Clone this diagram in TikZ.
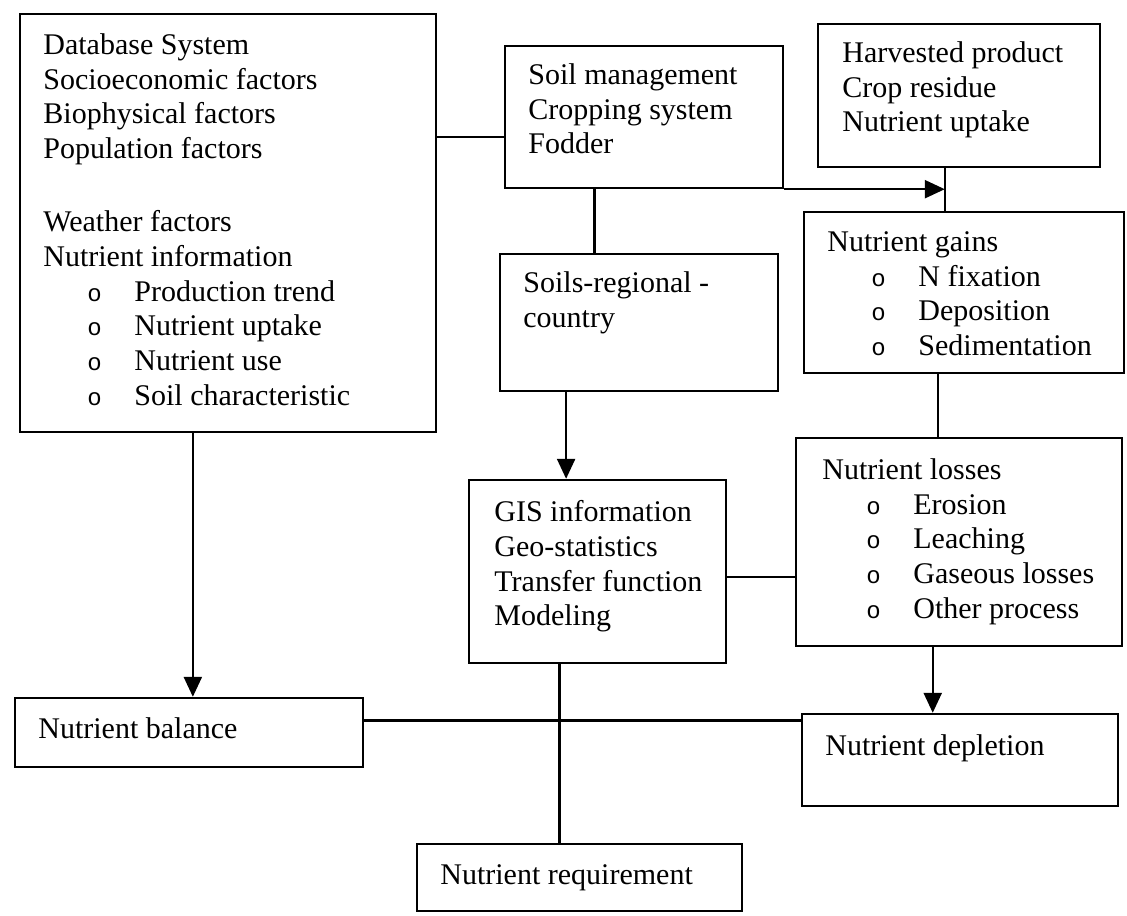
\documentclass[tikz,border=0pt]{standalone}
\usepackage{fontspec}
\setmainfont{Liberation Serif}
\newfontfamily\bulletfont{Liberation Mono}
\usetikzlibrary{arrows.meta,calc,fit}
\newcommand\bul[1]{\hspace*{22pt}\makebox[23.5pt][l]{\fontsize{12}{12}\bulletfont o}#1}
\tikzset{
  box/.style={draw, line width=1.2pt, inner sep=0pt},
  txt/.style={anchor=north west, inner sep=0pt, align=left, font=\fontsize{15}{17.4}\selectfont},
  conn/.style={line width=1.2pt},
  arr/.style={line width=1.2pt, -{Triangle[length=10pt,width=9pt]}}
}
\begin{document}
\begin{tikzpicture}[x=0.5pt,y=-0.5pt]
\useasboundingbox (0,0) rectangle (1127,915);
% boxes
\node[box, fit={(20,14) (436,432)}] (db) {};
\node[box, fit={(505,46) (783,188)}] (soil) {};
\node[box, fit={(818,24) (1100,167)}] (harv) {};
\node[box, fit={(804,212) (1124,373)}] (gains) {};
\node[box, fit={(500,254) (778,391)}] (soils) {};
\node[box, fit={(469,480) (726,663)}] (gis) {};
\node[box, fit={(796,438) (1122,646)}] (loss) {};
\node[box, fit={(15,698) (363,767)}] (bal) {};
\node[box, fit={(802,714) (1118,806)}] (depl) {};
\node[box, fit={(417,844) (742,911)}] (req) {};
% texts
\node[txt] (dbt) at (43,33) {Database System\\Socioeconomic factors\\Biophysical factors\\Population factors\\[19pt]Weather factors\\Nutrient information\\\bul{Production trend}\\\bul{Nutrient uptake}\\\bul{Nutrient use}\\\bul{Soil characteristic}};
\node[txt] (soilt) at (528,63) {Soil management\\Cropping system\\Fodder};
\node[txt] (harvt) at (842,41) {Harvested product\\Crop residue\\Nutrient uptake};
\node[txt] (gainst) at (827,231) {Nutrient gains\\\bul{N fixation}\\\bul{Deposition}\\\bul{Sedimentation}};
\node[txt] (soilst) at (523,271) {Soils-regional -\\country};
\node[txt] (gist) at (494,500) {GIS information\\Geo-statistics\\Transfer function\\Modeling};
\node[txt] (losst) at (822,458) {Nutrient losses\\\bul{Erosion}\\\bul{Leaching}\\\bul{Gaseous losses}\\\bul{Other process}};
\node[txt] (balt) at (38,717) {Nutrient balance};
\node[txt] (deplt) at (825,734) {Nutrient depletion};
\node[txt] (reqt) at (440,864) {Nutrient requirement};
% connectors
\coordinate (p1) at ($(soil.north west)!0.64!(soil.south west)$);
\draw[conn] (db.east |- p1) -- (p1);
\coordinate (p2) at ($(soil.south west)!0.324!(soil.south east)$);
\draw[conn] (p2) -- (soils.north -| p2);
\coordinate (j1) at ($(harv.south west)!0.45!(harv.south east)$);
\draw[conn] (j1) -- (gains.north -| j1);
\draw[arr] (soil.south east) -- (soil.south east -| j1);
\coordinate (p4) at ($(gains.south west)!0.42!(gains.south east)$);
\draw[conn] (p4) -- (loss.north -| p4);
\coordinate (p5) at ($(soils.south west)!0.24!(soils.south east)$);
\draw[arr] (p5) -- (gis.north -| p5);
\coordinate (p6) at ($(gis.north east)!0.53!(gis.south east)$);
\draw[conn] (p6) -- (loss.west |- p6);
\coordinate (p7) at ($(loss.south west)!0.42!(loss.south east)$);
\draw[arr] (p7) -- (depl.north -| p7);
\coordinate (p8) at ($(db.south west)!0.416!(db.south east)$);
\draw[arr] (p8) -- (bal.north -| p8);
\coordinate (p9) at ($(bal.north east)!0.333!(bal.south east)$);
\draw[conn] (p9) -- (depl.west |- p9);
\coordinate (p10) at ($(gis.south west)!0.354!(gis.south east)$);
\draw[conn] (p10) -- (req.north -| p10);
\end{tikzpicture}
\end{document}
